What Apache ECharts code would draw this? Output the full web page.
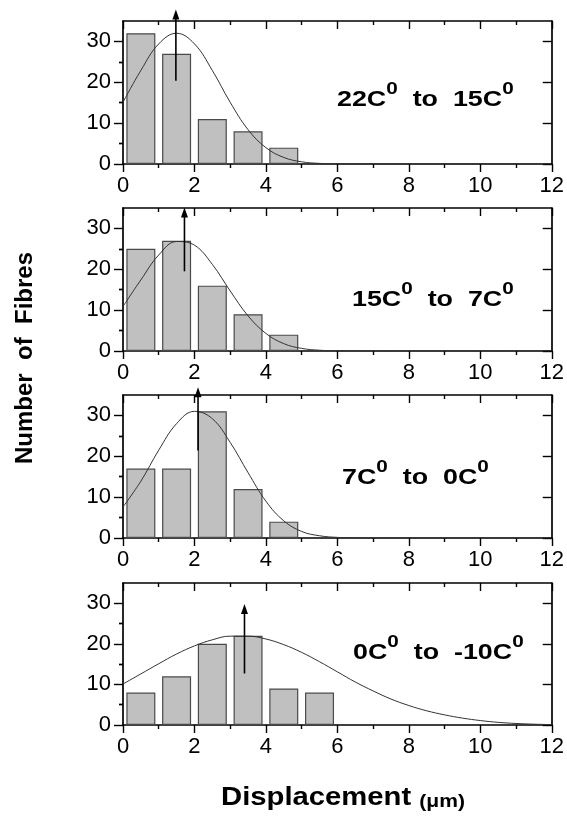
<!DOCTYPE html>
<html>
<head>
<meta charset="utf-8">
<script src="https://cdn.jsdelivr.net/npm/echarts@6/dist/echarts.min.js"></script>
<style>
html, body { margin: 0; padding: 0; background: #fff; }
#chart { width: 567px; height: 816px; }
</style>
</head>
<body>
<div id="chart"></div>
<script>
// histogram bins (centres, µm) and fibre counts per temperature step
var binCenters = [0.5, 1.5, 2.5, 3.5, 4.5, 5.5];
var counts22to15 = [32, 27, 11, 8, 4];
var counts15to7 = [25, 27, 16, 9, 4];
var counts7to0 = [17, 17, 31, 12, 4];
var counts0toM10 = [8, 12, 20, 22, 9, 8];

// fitted curves, every 0.5 µm
var fitX = [0, 0.5, 1, 1.5, 2, 2.5, 3, 3.5, 4, 4.5, 5, 5.5, 6, 6.5, 7, 7.5, 8, 8.5, 9, 9.5, 10, 10.5, 11, 11.5, 12];
var fit22to15 = [15.1, 22.9, 29.4, 32, 29.4, 22.9, 15.1, 8.4, 4.0, 1.6, 0.54, 0.15, 0.04, 0, 0, 0, 0, 0, 0, 0, 0, 0, 0, 0, 0];
var fit15to7 = [10.9, 17.4, 23.5, 26.8, 25.9, 21.2, 14.7, 8.6, 4.3, 1.8, 0.64, 0.19, 0.05, 0.01, 0, 0, 0, 0, 0, 0, 0, 0, 0, 0, 0];
var fit7to0 = [7.6, 13.9, 21.5, 28.0, 31.0, 29.2, 23.4, 16.0, 9.0, 4.2, 1.6, 0.55, 0.15, 0.04, 0, 0, 0, 0, 0, 0, 0, 0, 0, 0, 0];
var fit0toM10 = [10.1, 12.6, 15.1, 17.5, 19.5, 21.0, 21.9, 21.9, 21.2, 19.8, 17.9, 15.6, 13.1, 10.6, 8.4, 6.4, 4.8, 3.5, 2.5, 1.7, 1.1, 0.65, 0.38, 0.2, 0.1];

// arrows marking the peak of each fit: x, tail, tip
var arrowX = [1.48, 1.72, 2.1, 3.4];
var arrowFrom = [20.4, 19.5, 21.4, 12.7];
var arrowTo = [37.8, 35.1, 36.9, 29.8];

var panelLabels = [
    '{b|22C}{s|0}{b|  to  15C}{s|0}',
    '{b|15C}{s|0}{b|  to  7C}{s|0}',
    '{b|7C}{s|0}{b|  to  0C}{s|0}',
    '{b|0C}{s|0}{b|  to  -10C}{s|0}'
];
var yMajor = [0, 10, 20, 30];
var yMinor = [5, 15, 25];

var counts = [counts22to15, counts15to7, counts7to0, counts0toM10];
var fits = [fit22to15, fit15to7, fit7to0, fit0toM10];

var FONT = 'Liberation Sans, Arial, sans-serif';
var gridTops = [21, 208, 395, 583];
var gridHeights = [143, 143, 143, 142];
var labelPos = [[337, 96], [352, 296], [342, 474], [353, 649]];

function pairs(xs, ys) {
    return ys.map(function (v, i) { return [xs[i], v]; });
}

function renderArrow(params, api) {
    var tail = api.coord([api.value(0), api.value(1)]);
    var tip = api.coord([api.value(0), api.value(2)]);
    var head = 10, half = 3.5;
    return {
        type: 'group',
        children: [
            { type: 'line', shape: { x1: tail[0], y1: tail[1], x2: tip[0], y2: tip[1] + head - 1 },
              style: { stroke: '#000', lineWidth: 1.6 } },
            { type: 'polygon', shape: { points: [[tip[0], tip[1]], [tip[0] - half, tip[1] + head], [tip[0] + half, tip[1] + head]] },
              style: { fill: '#000' } }
        ]
    };
}

var grids = [], xAxes = [], yAxes = [], series = [], labels = [];
var axisLine = { show: true, onZero: false, lineStyle: { color: '#000', width: 1.7 } };
var tickStyle = { color: '#000', width: 1.4 };

for (var p = 0; p < 4; p++) {
    grids.push({ left: 123, right: 13, top: gridTops[p], height: gridHeights[p] });
    // bottom x axis with labels
    xAxes.push({
        type: 'value', gridIndex: p, min: 0, max: 12, interval: 2, position: 'bottom',
        axisLine: axisLine,
        axisTick: { show: true, length: 8, lineStyle: tickStyle },
        minorTick: { show: true, splitNumber: 2, length: 4, lineStyle: tickStyle },
        splitLine: { show: false },
        axisLabel: { color: '#000', fontFamily: FONT, fontSize: 22, margin: 11 }
    });
    // top mirror axis
    xAxes.push({
        type: 'value', gridIndex: p, min: 0, max: 12, interval: 2, position: 'top',
        axisLine: axisLine,
        axisTick: { show: true, inside: true, length: 8, lineStyle: tickStyle },
        minorTick: { show: true, splitNumber: 2, length: 4, lineStyle: tickStyle },
        splitLine: { show: false },
        axisLabel: { show: false }
    });
    // left major
    yAxes.push({
        type: 'value', gridIndex: p, min: 0, max: 35, interval: 10, position: 'left',
        axisLine: axisLine,
        axisTick: { show: true, length: 9, customValues: yMajor, lineStyle: tickStyle },
        splitLine: { show: false },
        axisLabel: { color: '#000', fontFamily: FONT, fontSize: 22, margin: 12, customValues: yMajor }
    });
    // left minor
    yAxes.push({
        type: 'value', gridIndex: p, min: 0, max: 35, interval: 5, position: 'left',
        axisLine: { show: false },
        axisTick: { show: true, length: 4, customValues: yMinor, lineStyle: tickStyle },
        splitLine: { show: false },
        axisLabel: { show: false }
    });
    // right major
    yAxes.push({
        type: 'value', gridIndex: p, min: 0, max: 35, interval: 10, position: 'right',
        axisLine: axisLine,
        axisTick: { show: true, inside: true, length: 9, customValues: yMajor, lineStyle: tickStyle },
        splitLine: { show: false },
        axisLabel: { show: false }
    });
    // right minor
    yAxes.push({
        type: 'value', gridIndex: p, min: 0, max: 35, interval: 5, position: 'right',
        axisLine: { show: false },
        axisTick: { show: true, inside: true, length: 4, customValues: yMinor, lineStyle: tickStyle },
        splitLine: { show: false },
        axisLabel: { show: false }
    });

    series.push({
        type: 'bar', xAxisIndex: p * 2, yAxisIndex: p * 4,
        data: pairs(binCenters, counts[p]),
        barWidth: 29,
        silent: true,
        itemStyle: { color: '#c0c0c0', borderColor: '#4a4a4a', borderWidth: 1.2 }
    });
    series.push({
        type: 'line', xAxisIndex: p * 2, yAxisIndex: p * 4,
        data: pairs(fitX, fits[p]),
        smooth: 0.4, showSymbol: false, silent: true,
        lineStyle: { color: '#333', width: 1 },
        z: 3
    });
    series.push({
        type: 'custom', xAxisIndex: p * 2, yAxisIndex: p * 4,
        data: [[arrowX[p], arrowFrom[p], arrowTo[p]]],
        encode: { x: 0, y: [1, 2] },
        renderItem: renderArrow,
        clip: false, silent: true, z: 4
    });
    labels.push({
        type: 'text', x: labelPos[p][0], y: labelPos[p][1], scaleX: 1.22,
        style: {
            text: panelLabels[p], align: 'left', verticalAlign: 'middle',
            rich: {
                b: { fontFamily: FONT, fontSize: 22, fontWeight: 'bold', fill: '#000', lineHeight: 30, verticalAlign: 'bottom' },
                s: { fontFamily: FONT, fontSize: 17, fontWeight: 'bold', fill: '#000', lineHeight: 18, verticalAlign: 'top' }
            }
        }
    });
}

labels.push({
    type: 'text', x: 25, y: 358, rotation: Math.PI / 2,
    style: {
        text: 'Number  of  Fibres', fill: '#000',
        font: 'bold 24px Liberation Sans, Arial, sans-serif',
        align: 'center', verticalAlign: 'middle'
    }
});
labels.push({
    type: 'text', x: 343, y: 796, scaleX: 1.17,
    style: {
        text: '{a|Displacement }{u|(\u03bcm)}', align: 'center', verticalAlign: 'middle',
        rich: {
            a: { fontFamily: FONT, fontSize: 25, fontWeight: 'bold', fill: '#000', verticalAlign: 'bottom', lineHeight: 30 },
            u: { fontFamily: FONT, fontSize: 18, fontWeight: 'bold', fill: '#000', verticalAlign: 'bottom', lineHeight: 26 }
        }
    }
});

var option = {
    animation: false,
    backgroundColor: '#fff',
    grid: grids,
    xAxis: xAxes,
    yAxis: yAxes,
    series: series,
    graphic: labels
};

var chart = echarts.init(document.getElementById('chart'));
chart.setOption(option);
</script>
</body>
</html>
